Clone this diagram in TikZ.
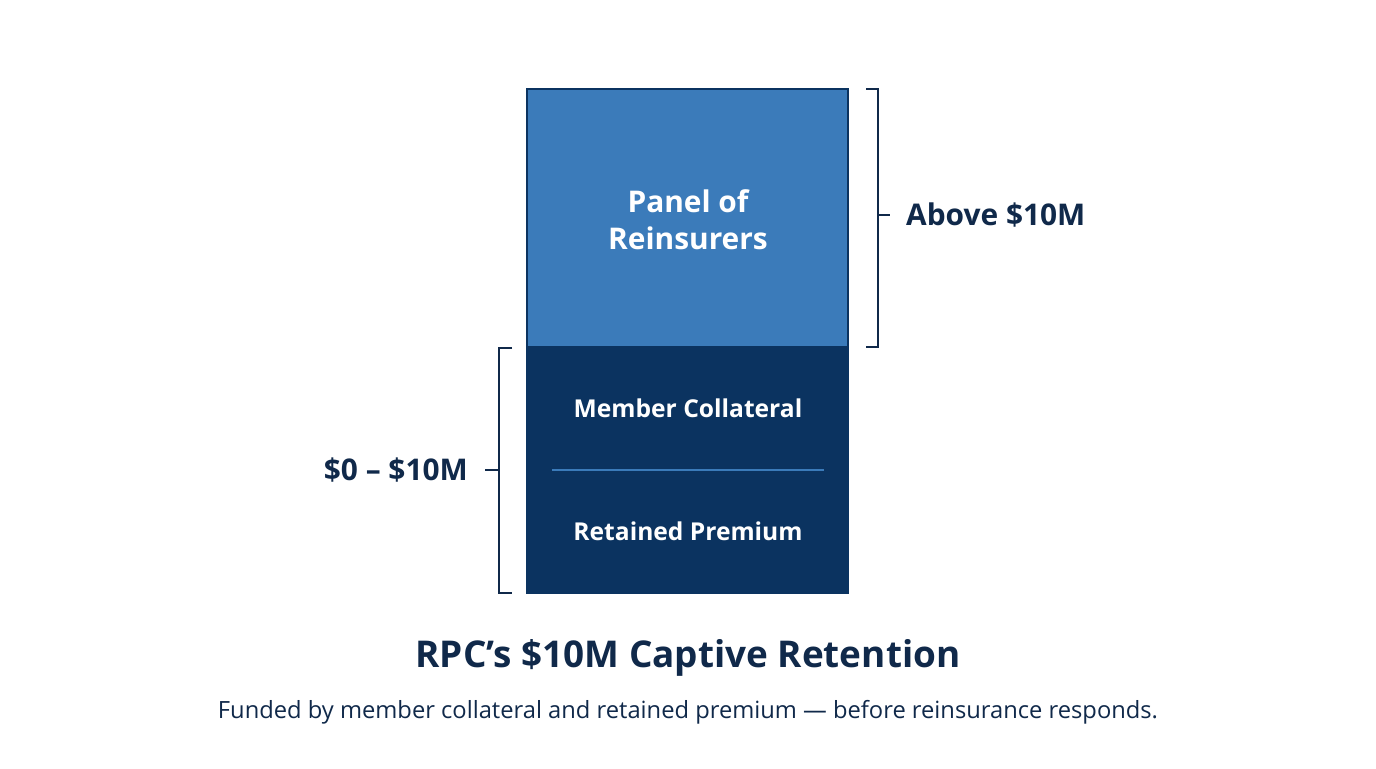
\documentclass[tikz,border=0pt]{standalone}
\usepackage{fontspec}
\setmainfont{Open Sans}
\definecolor{navy}{HTML}{0B3360}
\definecolor{ink}{HTML}{10294A}
\definecolor{lightblue}{HTML}{3B7BBA}
\begin{document}
\begin{tikzpicture}[x=0.02cm,y=-0.02cm,
  lbl/.style={text=white,font=\bfseries\fontsize{14}{17}\selectfont},
  side/.style={text=ink,font=\bfseries\fontsize{17}{20}\selectfont},
  brk/.style={draw=ink,line width=1.2pt}]
\useasboundingbox (0,0) rectangle (1376,768);
\fill[white] (0,0) rectangle (1376,768);
\fill[lightblue] (527,89) rectangle (848,347);
\fill[navy] (527,347) rectangle (848,593);
\draw[navy,line width=1.3pt] (527,89) rectangle (848,593);
\draw[navy,line width=1.3pt] (527,347) -- (848,347);
\coordinate (d1) at (552,470); \coordinate (d2) at (824,470);
\draw[lightblue,line width=1.2pt] (d1) -- (d2);
\node[text=white,font=\bfseries\fontsize{17}{21}\selectfont,align=center] (panel) at (688,220) {Panel of\\Reinsurers};
\node[lbl] (mc) at (688,408) {Member Collateral};
\node[lbl] (rp) at (688,531) {Retained Premium};
% right bracket
\draw[brk] (866,89) -- (878,89) -- (878,347) -- (866,347);
\coordinate (rt) at (878,215); \coordinate (rt2) at (890,215);
\draw[brk] (rt) -- (rt2);
\node[side,anchor=west] (above) at (900,215) {Above \$10M};
% left bracket
\draw[brk] (512,348) -- (499,348) -- (499,593) -- (512,593);
\coordinate (lt) at (499,470); \coordinate (lt2) at (485,470);
\draw[brk] (lt) -- (lt2);
\node[side,anchor=east] (low) at (474,470) {\$0 – \$10M};
\node[text=ink,font=\bfseries\fontsize{21}{25}\selectfont] (title) at (688,658) {RPC’s \$10M Captive Retention};
\node[text=ink,font=\fontsize{13.5}{16}\selectfont] (sub) at (688,712) {Funded by member collateral and retained premium — before reinsurance responds.};
\end{tikzpicture}
\end{document}
